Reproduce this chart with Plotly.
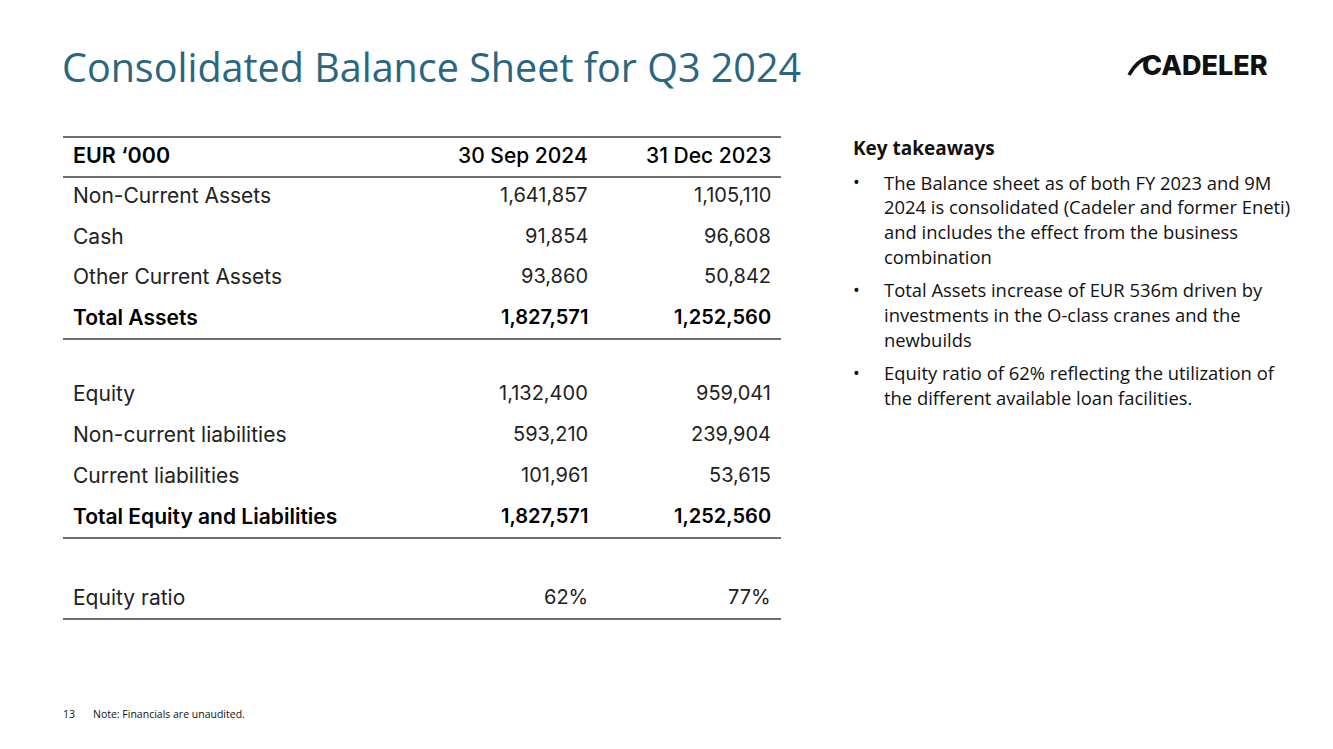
import plotly.graph_objects as go

# ---------------- data ----------------
title = "Consolidated Balance Sheet for Q3 2024"
header = ["EUR \u2018000", "30 Sep 2024", "31 Dec 2023"]
row_labels = ["Non-Current Assets", "Cash", "Other Current Assets", "Total Assets",
              "Equity", "Non-current liabilities", "Current liabilities",
              "Total Equity and Liabilities", "Equity ratio"]
sep_2024 = ["1,641,857", "91,854", "93,860", "1,827,571",
            "1,132,400", "593,210", "101,961", "1,827,571", "62%"]
dec_2023 = ["1,105,110", "96,608", "50,842", "1,252,560",
            "959,041", "239,904", "53,615", "1,252,560", "77%"]
bold_rows = [False, False, False, True, False, False, False, True, False]

takeaway_title = "Key takeaways"
takeaways = [
    ["The Balance sheet as of both FY 2023 and 9M",
     "2024 is consolidated (Cadeler and former Eneti)",
     "and includes the effect from the business",
     "combination"],
    ["Total Assets increase of EUR 536m driven by",
     "investments in the O-class cranes and the",
     "newbuilds"],
    ["Equity ratio of 62% reflecting the utilization of",
     "the different available loan facilities."],
]
page_number = "13"
footnote = "Note: Financials are unaudited."
logo_text = "CADELER"

# ---------------- layout (page-pixel positions) ----------------
W, H = 1333, 749
OFF = 8  # default body margin of the html page
row_y = [195, 236, 276, 317, 393, 434, 475, 516, 597]
header_y = 155
rule_y = [137, 177, 339, 538, 619]
x_label, x_col1, x_col2 = 71, 590, 773
tbl_left, tbl_right = 63, 781
TBL_FONT = "Inter, Roboto, sans-serif"
TXT_FONT = "Open Sans, Noto Sans, sans-serif"

fig = go.Figure()
ann = []
shapes = []


def add_text(x, y, text, size, color="#111111", family=TBL_FONT, anchor="left", weight="normal"):
    ann.append(dict(x=x, y=y, xref="x", yref="y", text=text, showarrow=False,
                    xanchor=anchor, yanchor="middle",
                    font=dict(size=size, color=color, family=family, weight=weight)))


# title
add_text(60, 67, title, 39.5, color="#2B6680", family=TXT_FONT)

# header
add_text(x_label, header_y, header[0], 21.5, weight=600, color="#000000")
add_text(x_col1, header_y, header[1], 21, anchor="right", weight=500, color="#000000")
add_text(x_col2, header_y, header[2], 21, anchor="right", weight=500, color="#000000")

# rows
for y, lab, v1, v2, b in zip(row_y, row_labels, sep_2024, dec_2023, bold_rows):
    w = 600 if b else "normal"
    c = "#000000" if b else "#222222"
    add_text(x_label, y, lab, 21, color=c, weight=w)
    add_text(x_col1, y, v1, 20, color=c, anchor="right", weight=w)
    add_text(x_col2, y, v2, 20, color=c, anchor="right", weight=w)

for y in rule_y:
    shapes.append(dict(type="line", xref="x", yref="y", x0=tbl_left, x1=tbl_right,
                       y0=y, y1=y, line=dict(color="#3C3C3C", width=1.6)))

# key takeaways
add_text(851, 148, takeaway_title, 19, color="#111111", family=TXT_FONT, weight="bold")
line_h = 24.8
y = 182
for block in takeaways:
    add_text(851, y, "\u2022", 18, family=TXT_FONT)
    for ln in block:
        add_text(882, y, ln, 18.4, family=TXT_FONT, color="#111111")
        y += line_h
    y += 8.5

# footer
add_text(61, 714, page_number, 10.5, family=TXT_FONT)
add_text(91, 714, footnote, 10.5, family=TXT_FONT)

# logo
add_text(1270, 65, logo_text, 27, color="#111111", family="Inter, Roboto, sans-serif", anchor="right", weight=800)
shapes.append(dict(type="path", xref="x", yref="y",
                   path="M 1129 75 Q 1137 60 1150 57",
                   line=dict(color="#111111", width=3.6)))

fig.update_layout(
    width=W, height=H,
    margin=dict(l=0, r=0, t=0, b=0),
    paper_bgcolor="white", plot_bgcolor="white",
    xaxis=dict(range=[OFF, W + OFF], visible=False, fixedrange=True),
    yaxis=dict(range=[H + OFF, OFF], visible=False, fixedrange=True),
    annotations=ann, shapes=shapes, showlegend=False,
)

fig.write_html("out.html")
